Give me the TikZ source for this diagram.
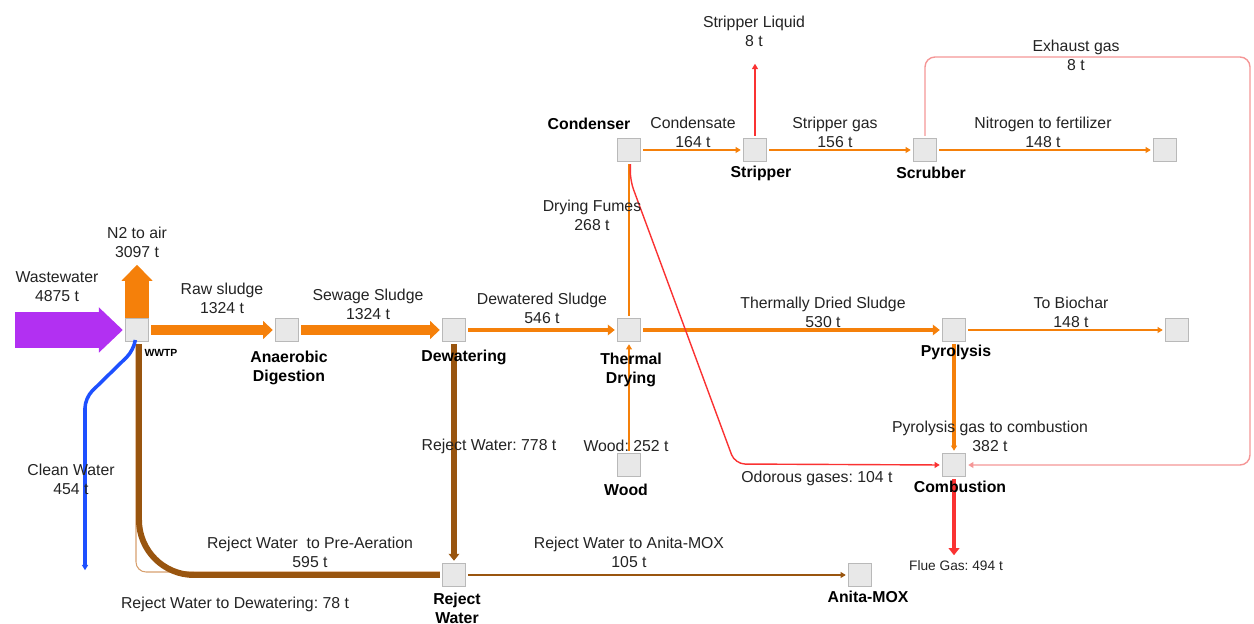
\documentclass[tikz,border=0pt]{standalone}
\usepackage{fontspec}
\setmainfont{Liberation Sans}
\usetikzlibrary{arrows.meta,positioning}
\frenchspacing

\definecolor{flowor}{RGB}{245,128,10}
\definecolor{flowbr}{RGB}{153,85,15}
\definecolor{flowtan}{RGB}{215,160,110}
\definecolor{flowred}{RGB}{250,50,50}
\definecolor{flowpink}{RGB}{245,150,150}
\definecolor{flowblue}{RGB}{30,80,255}
\definecolor{flowpurple}{RGB}{178,48,242}
\definecolor{boxfill}{RGB}{232,232,232}
\definecolor{boxgray}{RGB}{185,185,185}
\definecolor{txtgray}{RGB}{35,35,35}

\tikzset{
  proc/.style={draw=boxgray, fill=boxfill, line width=0.8pt, minimum size=0.47cm, inner sep=0pt},
  lbl/.style={font=\fontsize{9}{10.8}\selectfont, text=txtgray, align=center, inner sep=0pt},
  pname/.style={font=\fontsize{9}{10.8}\selectfont\bfseries, align=center, inner sep=0pt},
  orflow/.style={draw=flowor, line width=#1},
  brflow/.style={draw=flowbr, line width=#1},
  redflow/.style={draw=flowred, line width=#1},
  tipS/.style={-{Triangle[length=3pt,width=3.4pt]}},
  tipM/.style={-{Triangle[length=4pt,width=6pt]}},
  tipL/.style={-{Triangle[length=5.5pt,width=10pt]}}
}

\begin{document}
\begin{tikzpicture}[x=0.02cm, y=-0.02cm, shorten >=1pt, shorten <=1pt]
  \useasboundingbox (0,0) rectangle (1254,624);

  % processes
  \node[proc] (wwtp)  at (137,330) {};
  \node[proc] (ad)    at (287,330) {};
  \node[proc] (dew)   at (454,330) {};
  \node[proc] (td)    at (629,330) {};
  \node[proc] (pyr)   at (954,330) {};
  \node[proc] (bio)   at (1177,330) {};
  \node[proc] (cond)  at (629,150) {};
  \node[proc] (strip) at (755,150) {};
  \node[proc] (scrub) at (925,150) {};
  \node[proc] (fert)  at (1165,150) {};
  \node[proc] (wood)  at (629,465) {};
  \node[proc] (comb)  at (954,465) {};
  \node[proc] (rw)    at (454,575) {};
  \node[proc] (amox)  at (860,575) {};

  % loose ends
  \coordinate (wwin)  at (13,330);
  \coordinate (n2out) at (137,263);
  \coordinate (sliq)  at (755,62);
  \coordinate (exh)   at (1250,57);
  \coordinate (odor)  at (735,464);
  \coordinate (flue)  at (954,557);
  \coordinate (cwout) at (85,572);

  % flows
  \draw[draw=flowpurple, line width=0.72cm, -{Triangle[length=0.48cm,width=0.88cm]}] (wwin) -- (wwtp.west);
  \draw[orflow=0.48cm, shorten <=0pt, -{Triangle[length=0.32cm,width=0.6cm]}] (wwtp.north) -- (n2out);
  \draw[orflow=6pt, tipL] (wwtp) -- (ad);
  \draw[orflow=6pt, tipL] (ad) -- (dew);
  \draw[orflow=2pt, tipM] (dew) -- (td);
  \draw[orflow=2pt, tipM] (td) -- (pyr);
  \draw[orflow=0.8pt, tipS] (pyr) -- (bio);
  \draw[orflow=1.1pt] (td) -- (cond);
  \draw[orflow=0.8pt, tipS] (wood) -- (td);
  \draw[orflow=0.8pt, tipS] (cond) -- (strip);
  \draw[draw=flowred, line width=0.6pt, tipS] (strip.north) -- (sliq);
  \draw[orflow=0.8pt, tipS] (strip) -- (scrub);
  \draw[orflow=0.8pt, tipS] (scrub) -- (fert);
  \draw[draw=flowpink, line width=0.8pt, rounded corners=0.2cm, tipS] (scrub.north) |- (exh) |- (comb.east);
  \draw[redflow=0.8pt, rounded corners=0.2cm, tipS] ([xshift=0.03cm]cond.south) -- (630,180) -- (odor) -- (comb.west);
  \draw[orflow=1.8pt, tipS] (pyr) -- (comb);
  \draw[redflow=2.8pt, tipM] (comb.south) -- (flue);
  \draw[brflow=3.4pt, tipM] (dew) -- (rw);
  \draw[draw=flowtan, line width=0.6pt, rounded corners=0.2cm] ([yshift=0.06cm]rw.west) -| ([xshift=-0.02cm]wwtp.south);
  \draw[brflow=3.4pt, rounded corners=1.1cm] (rw.west) -| ([xshift=0.04cm]wwtp.south);
  \draw[brflow=0.7pt, tipS] (rw) -- (amox);
  \draw[draw=flowblue, line width=2pt, rounded corners=0.2cm, tipS] ([xshift=-0.04cm]wwtp.south) -- (134,350) -- (85,398) -- (cwout);

  % process names
  \node[pname, font=\fontsize{5.9}{7}\selectfont\bfseries] (nwwtp) at (161,353) {WWTP};
  \node[pname] (nad)    at (289,368) {Anaerobic\\Digestion};
  \node[pname] (ndew)   at (464,357) {Dewatering};
  \node[pname] (ntd)    at (631,369.5) {Thermal\\Drying};
  \node[pname] (npyr)   at (956,352) {Pyrolysis};
  \node[pname] (ncond)  at (589,124) {Condenser};
  \node[pname] (nstrip) at (761,173) {Stripper};
  \node[pname] (nscrub) at (931,173) {Scrubber};
  \node[pname] (nwood)  at (626,490) {Wood};
  \node[pname] (ncomb)  at (960,487) {Combustion};
  \node[pname] (nrw)    at (457,608) {Reject\\Water};
  \node[pname] (namox)  at (868,597) {Anita-MOX};

  % flow labels
  \node[lbl] (lww)    at (57,286.5)  {Wastewater\\4875 t};
  \node[lbl] (ln2)    at (137,242)   {N2 to air\\3097 t};
  \node[lbl] (lraw)   at (222,298.5) {Raw sludge\\1324 t};
  \node[lbl] (lsew)   at (368,304)   {Sewage Sludge\\1324 t};
  \node[lbl] (ldew)   at (542,308)   {Dewatered Sludge\\546 t};
  \node[lbl] (ltds)   at (823,312.5) {Thermally Dried Sludge\\530 t};
  \node[lbl] (lbio)   at (1071,312)  {To Biochar\\148 t};
  \node[lbl] (lfume)  at (592,215)   {Drying Fumes\\268 t};
  \node[lbl] (lcons)  at (693,132.5) {Condensate\\164 t};
  \node[lbl] (lsliq)  at (754,31)    {Stripper Liquid\\8 t};
  \node[lbl] (lsgas)  at (835,132.5) {Stripper gas\\156 t};
  \node[lbl] (lnit)   at (1043,132.5){Nitrogen to fertilizer\\148 t};
  \node[lbl] (lexh)   at (1076,55)   {Exhaust gas\\8 t};
  \node[lbl] (lpgas)  at (990,436.5) {Pyrolysis gas to combustion\\382 t};
  \node[lbl] (lodor)  at (817,478)   {Odorous gases: 104 t};
  \node[lbl, font=\fontsize{7.8}{9}\selectfont] (lflue) at (956,566) {Flue Gas: 494 t};
  \node[lbl] (lrw)    at (489,446)   {Reject Water: 778 t};
  \node[lbl] (lwood)  at (626,446)   {Wood: 252 t};
  \node[lbl] (lamox)  at (629,552)   {Reject Water to Anita-MOX\\105 t};
  \node[lbl] (lpre)   at (310,552.5) {Reject Water\ \ to Pre-Aeration\\595 t};
  \node[lbl] (lrdew)  at (235,604)   {Reject Water to Dewatering: 78 t};
  \node[lbl] (lcw)    at (71,479)    {Clean Water\\454 t};
\end{tikzpicture}
\end{document}
